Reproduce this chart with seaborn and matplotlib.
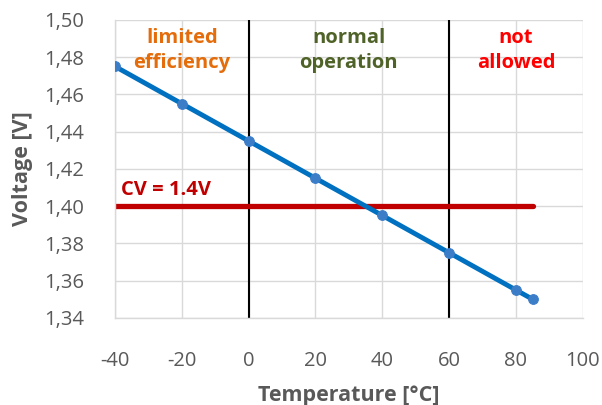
import matplotlib
matplotlib.use("Agg")
import matplotlib.pyplot as plt
import seaborn as sns
import pandas as pd
from matplotlib.ticker import FuncFormatter

temperature = [-40, -20, 0, 20, 40, 60, 80, 85]
voltage = [1.475, 1.455, 1.435, 1.415, 1.395, 1.375, 1.355, 1.350]
cv_x = [-40, 85]
cv_y = [1.40, 1.40]
boundaries = [0, 60]
regions = [(-20, "limited\nefficiency", "#E46C0A"),
           (30, "normal\noperation", "#4F6228"),
           (80, "not\nallowed", "#FF0000")]

sns.set_theme(style="whitegrid")
plt.rcParams['font.family'] = ['Open Sans', 'DejaVu Sans']
plt.rcParams['axes.unicode_minus'] = False

df = pd.DataFrame({"T": temperature, "V": voltage})
fig = plt.figure(figsize=(6.02, 4.05), dpi=100)
ax = fig.add_axes([0.191, 0.215, 0.777, 0.736])

ax.plot(cv_x, cv_y, color="#C00000", lw=3.8, zorder=2)
for b in boundaries:
    ax.axvline(b, color="black", lw=1.5, zorder=1)
sns.lineplot(data=df, x="T", y="V", ax=ax, color="#0070C0", lw=3.5,
             marker="o", markersize=7, markerfacecolor="#3C7DC8",
             markeredgecolor="#3C7DC8", zorder=3)

ax.set_xlim(-40, 100)
ax.set_ylim(1.34, 1.50)
ax.set_xticks(range(-40, 101, 20))
ax.set_yticks([1.34 + 0.02 * i for i in range(9)])
ax.yaxis.set_major_formatter(FuncFormatter(lambda v, p: f"{v:.2f}".replace(".", ",")))
ax.grid(True, color="#D9D9D9", lw=1)
for s in ["top", "right"]:
    ax.spines[s].set_visible(False)
for s in ["left", "bottom"]:
    ax.spines[s].set_color("#D9D9D9")
    ax.spines[s].set_linewidth(1)
ax.tick_params(axis="both", labelsize=14.5, colors="#595959", length=0)
ax.tick_params(axis="x", pad=24)
ax.tick_params(axis="y", pad=22)

ax.set_xlabel("Temperature [°C]", fontsize=15.5, fontweight="bold", color="#595959", labelpad=10)
ax.set_ylabel("Voltage [V]", fontsize=15.5, fontweight="bold", color="#595959", labelpad=8)

for xc, txt, col in regions:
    ax.text(xc, 1.4955, txt, ha="center", va="top", fontsize=14.5,
            fontweight="bold", color=col, linespacing=1.35)
ax.text(-38.2, 1.4035, "CV = 1.4V", ha="left", va="bottom", fontsize=14.5,
        fontweight="bold", color="#C00000")

fig.savefig("out.png", dpi=100)
